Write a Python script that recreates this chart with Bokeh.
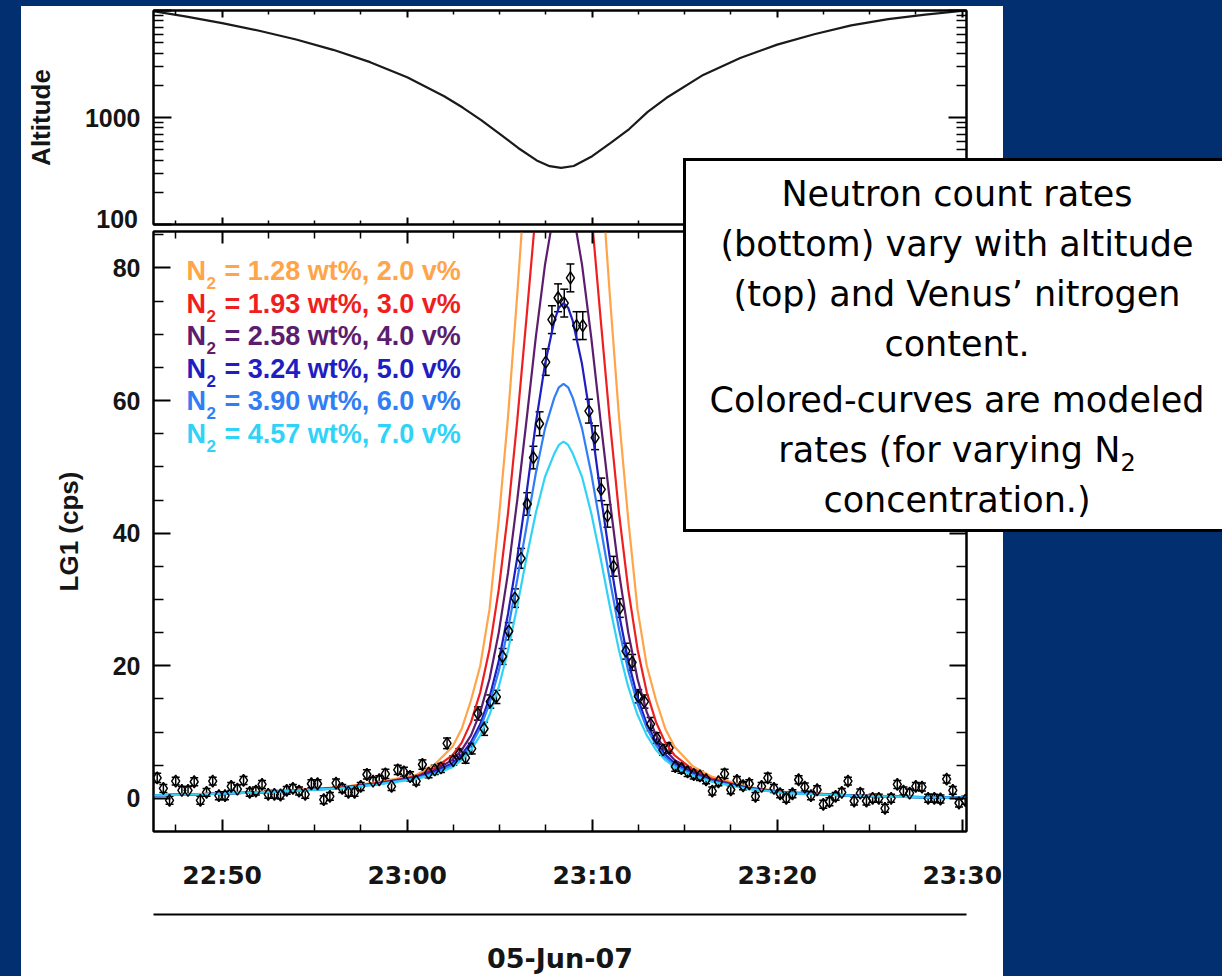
import numpy as np
from bokeh.plotting import figure
from bokeh.layouts import column
from bokeh.models import (Range1d, LinearAxis, LogAxis, FixedTicker, Label, Div,
                          ColumnDataSource, Whisker, TeeHead, GlobalInlineStyleSheet)
from bokeh.embed import file_html
from bokeh.resources import INLINE

# ---------------- data ----------------
time_tick_minutes = [50, 60, 70, 80, 90]          # minutes after 22:00
time_tick_labels = ["22:50", "23:00", "23:10", "23:20", "23:30"]
time_minor_minutes = [47.5, 52.5, 55, 57.5, 62.5, 65, 67.5, 72.5, 75, 77.5, 82.5, 85, 87.5]
date_label = "05-Jun-07"
alt_tick_values = [100, 1000, 10000]
alt_tick_labels = ["100", "1000", ""]

count_start_minute = 46.49
count_step_seconds = 20
lg1_cps = [3.1, 1.5, -0.3, 2.6, 1.2, 1.2, 2.5, -0.3, 0.9, 2.6,
           0.4, 0.4, 1.8, 1.4, 2.7, 0.9, 1.1, 2.1, 0.6, 0.6,
           0.5, 1.2, 1.5, 1.1, 0.6, 2.2, 2.2, -0.2, 0.3, 2.3,
           1.5, 0.9, 0.9, 1.8, 3.6, 2.6, 2.8, 3.7, 1.8, 4.3,
           4.0, 3.3, 2.6, 5.1, 3.8, 4.3, 4.6, 8.3, 5.7, 6.7,
           6.1, 7.5, 12.8, 10.5, 14.6, 15.3, 21.4, 25.2, 30.2, 36.2,
           44.4, 51.4, 56.5, 65.8, 72.2, 75.5, 74.7, 78.5, 71.3, 71.3,
           58.4, 54.4, 46.6, 42.6, 35.0, 28.7, 22.2, 20.5, 15.4, 14.6,
           11.2, 9.1, 7.3, 7.6, 4.8, 4.5, 4.0, 3.6, 3.4, 2.8,
           1.1, 2.5, 3.7, 1.3, 2.7, 1.9, 2.2, 0.3, 1.8, 3.1,
           1.5, 0.7, 0.0, 0.7, 2.8, 1.7, 0.4, 1.3, -0.9, -0.5,
           0.3, 0.9, 2.6, -0.4, 0.8, -0.4, 0.0, 0.0, -1.5, 0.0,
           2.1, 1.1, 0.8, 1.8, 1.7, 0.0, 0.0, -0.1, 2.9, 1.2,
           -0.7, -0.3]
lg1_err = [0.7, 0.6, 0.6, 0.6, 0.6, 0.6, 0.6, 0.6, 0.6, 0.6,
           0.6, 0.6, 0.6, 0.6, 0.6, 0.6, 0.6, 0.6, 0.6, 0.6,
           0.6, 0.6, 0.6, 0.6, 0.6, 0.6, 0.6, 0.6, 0.6, 0.6,
           0.6, 0.6, 0.6, 0.6, 0.7, 0.6, 0.6, 0.7, 0.6, 0.7,
           0.7, 0.7, 0.6, 0.7, 0.7, 0.7, 0.7, 0.8, 0.7, 0.8,
           0.8, 0.8, 1.0, 1.0, 1.0, 1.0, 1.2, 1.3, 1.4, 1.5,
           1.7, 1.7, 1.8, 2.0, 2.1, 2.1, 2.1, 2.1, 2.1, 2.1,
           1.8, 1.8, 1.7, 1.7, 1.5, 1.4, 1.2, 1.2, 1.0, 1.0,
           1.0, 0.8, 0.8, 0.8, 0.7, 0.7, 0.7, 0.7, 0.7, 0.6,
           0.6, 0.6, 0.7, 0.6, 0.6, 0.6, 0.6, 0.6, 0.6, 0.7,
           0.6, 0.6, 0.6, 0.6, 0.6, 0.6, 0.6, 0.6, 0.6, 0.6,
           0.6, 0.6, 0.6, 0.6, 0.6, 0.6, 0.6, 0.6, 0.6, 0.6,
           0.6, 0.6, 0.6, 0.6, 0.6, 0.6, 0.6, 0.6, 0.6, 0.6,
           0.6, 0.6]

model_minutes = [46.3, 50.0, 53.0, 56.45, 58.45, 60.45, 61.45, 62.45, 62.95, 63.45,
                 63.95, 64.45, 64.95, 65.45, 65.95, 66.45, 66.95, 67.45, 67.95, 68.2,
                 68.45, 68.7, 68.95, 69.45, 69.95, 70.45, 70.95, 71.45, 71.95, 72.45,
                 72.95, 73.45, 73.95, 74.45, 75.45, 76.45, 78.45, 80.45, 84.0, 88.0, 90.3]
model_n2_200 = [0.5, 0.75, 1.1, 1.7, 2.45, 3.5, 5.0, 7.8, 10.5, 14.8, 20.0, 28.5, 42.0, 57.5,
                76.0, 96.0, 117.0, 136.0, 149.0, 153.5, 155.0, 153.5, 149.0, 136.0, 117.0,
                96.0, 76.0, 57.5, 42.0, 28.5, 20.0, 14.8, 10.5, 7.8, 4.8, 3.3, 1.7, 0.95,
                0.5, 0.2, 0.1]
model_n2_300 = [0.45, 0.7, 1.05, 1.65, 2.35, 3.3, 4.5, 6.5, 8.4, 11.5, 16.0, 22.5, 31.5, 43.0,
                57.0, 72.5, 88.5, 103.0, 113.5, 117.0, 118.0, 117.0, 113.5, 103.0, 88.5,
                72.5, 57.0, 43.0, 31.5, 22.5, 16.0, 11.5, 8.4, 6.5, 4.3, 3.0, 1.6, 0.9,
                0.45, 0.2, 0.1]
model_n2_400 = [0.45, 0.7, 1.0, 1.6, 2.25, 3.2, 4.2, 5.8, 7.3, 9.5, 13.0, 18.0, 25.0, 34.0,
                45.0, 57.0, 69.5, 80.5, 88.7, 91.2, 92.0, 91.2, 88.7, 80.5, 69.5, 57.0,
                45.0, 34.0, 25.0, 18.0, 13.0, 9.5, 7.3, 5.8, 4.0, 2.8, 1.55, 0.9, 0.45,
                0.15, 0.1]
model_n2_500 = [0.45, 0.7, 1.0, 1.55, 2.2, 3.1, 4.0, 5.3, 6.6, 8.5, 11.2, 15.2, 20.7, 27.8,
                36.3, 46.0, 56.5, 65.5, 72.0, 74.0, 74.7, 74.0, 72.0, 65.5, 56.5, 46.0,
                36.3, 27.8, 20.7, 15.2, 11.2, 8.5, 6.6, 5.3, 3.8, 2.7, 1.5, 0.85, 0.4,
                0.15, 0.1]
model_n2_600 = [0.45, 0.7, 1.0, 1.55, 2.15, 3.0, 3.8, 5.0, 6.2, 8.0, 10.6, 14.3, 19.2, 25.5,
                33.0, 41.0, 49.0, 55.8, 60.4, 62.0, 62.5, 62.0, 60.4, 55.8, 49.0, 41.0,
                33.0, 25.5, 19.2, 14.3, 10.6, 8.0, 6.2, 5.0, 3.6, 2.6, 1.45, 0.85, 0.4,
                0.15, 0.1]
model_n2_700 = [0.45, 0.7, 1.0, 1.5, 2.1, 2.9, 3.6, 4.7, 5.8, 7.3, 9.5, 12.6, 16.8, 22.3,
                29.0, 36.3, 43.0, 48.5, 52.0, 53.3, 53.8, 53.3, 52.0, 48.5, 43.0, 36.3,
                29.0, 22.3, 16.8, 12.6, 9.5, 7.3, 5.8, 4.7, 3.4, 2.5, 1.4, 0.8, 0.4,
                0.15, 0.1]
legend_wt = ["1.28", "1.93", "2.58", "3.24", "3.90", "4.57"]
legend_v = ["2.0", "3.0", "4.0", "5.0", "6.0", "7.0"]
model_colors = ["#ffa449", "#f01f1f", "#5c1d6e", "#1e1ec2", "#2f7ef5", "#2fd3f7"]

alt_minutes = [46.23, 48, 50, 52, 54, 56, 58, 60, 62, 63, 64, 65, 66, 67, 67.7, 68.32,
               69, 70, 71, 72, 73, 74, 76, 78, 80, 82, 84, 86, 88, 90.23]
alt_km = [9870, 8800, 7620, 6470, 5360, 4290, 3290, 2373, 1579, 1239, 945, 703, 519, 397,
          351, 338, 352, 435, 580, 780, 1130, 1520, 2500, 3600, 4800, 6000, 7250, 8300,
          9150, 10000]

box_para1 = ["Neutron count rates", "(bottom) vary with altitude",
             "(top) and Venus\u2019 nitrogen", "content."]
box_para2 = ["Colored-curves are modeled",
             'rates (for varying N<span style="font-size:24px; position:relative; top:9px; '
             'line-height:0;">2</span>',
             "concentration.)"]

# ---------------- layout constants (page has no margin: canvas = page coords) ----------------
NAVY = "#022f70"
INK = "#151515"
FONT = "Liberation Sans"
WIDE = "DejaVu Sans"
W = 1222
TOP_H = 229
BOT_H = 976 - TOP_H
LEFT = 153
FRAME_W = 813
RIGHT = W - LEFT - FRAME_W
X0, X1 = 46.29, 90.23
BOT_FRAME_LEFT = LEFT
BOT_FRAME_BOTTOM = 831   # page y of bottom frame's lower edge


def style_axis(ax, labels=True):
    ax.axis_line_color = "black"
    ax.axis_line_width = 2
    ax.major_tick_line_color = "black"
    ax.major_tick_line_width = 2
    ax.minor_tick_line_color = "black"
    ax.minor_tick_line_width = 1.5
    ax.major_tick_out = 0
    ax.minor_tick_out = 0
    ax.major_label_text_font = FONT
    ax.major_label_text_font_style = "bold"
    ax.major_label_text_color = INK
    ax.axis_label_text_font = FONT
    ax.axis_label_text_font_style = "bold"
    ax.axis_label_text_font_size = "26px"
    ax.axis_label_text_color = INK
    if labels:
        ax.major_label_text_font_size = "25px"
    else:
        ax.major_label_text_font_size = "1px"
        ax.major_label_standoff = 0


def blank_overrides(ticks):
    return {t: "" for t in ticks}


def base_fig(h, y_range, y_type, top_b, bot_b):
    f = figure(width=W, height=h, x_range=Range1d(X0, X1), y_range=y_range,
               y_axis_type=y_type, x_axis_location=None, y_axis_location=None,
               output_backend="svg", toolbar_location=None,
               min_border_left=LEFT, min_border_right=RIGHT,
               min_border_top=top_b, min_border_bottom=bot_b)
    f.border_fill_alpha = 0
    f.background_fill_color = "white"
    f.outline_line_color = "black"
    f.outline_line_width = 2
    f.grid.visible = False
    return f


x_ticker = FixedTicker(ticks=time_tick_minutes, minor_ticks=time_minor_minutes)

# ---------------- top panel: altitude ----------------
top = base_fig(TOP_H, Range1d(100, 10000), "log", 10, TOP_H - 224)
log_ticker = FixedTicker(ticks=alt_tick_values,
                         minor_ticks=[200, 300, 400, 500, 600, 700, 800, 900,
                                      2000, 3000, 4000, 5000, 6000, 7000, 8000, 9000])
# the lowest label ("100") sits on the panel seam; it is placed as page text below
ya = LogAxis(ticker=log_ticker, axis_label="Altitude",
             major_label_overrides={100: "", 1000: alt_tick_labels[1], 10000: alt_tick_labels[2]})
style_axis(ya)
ya.major_tick_in = 18
ya.minor_tick_in = 10
ya.major_label_standoff = 13
ya.axis_label_standoff = 26
top.add_layout(ya, "left")
yb = LogAxis(ticker=log_ticker, major_label_overrides=blank_overrides(alt_tick_values))
style_axis(yb, labels=False)
yb.major_tick_in = 18
yb.minor_tick_in = 10
top.add_layout(yb, "right")
for loc in ("below", "above"):
    xa = LinearAxis(ticker=x_ticker, major_label_overrides=blank_overrides(time_tick_minutes))
    style_axis(xa, labels=False)
    xa.major_tick_in = 7
    xa.minor_tick_in = 4
    top.add_layout(xa, loc)

top.line(alt_minutes, alt_km, line_color="#1a1a1a", line_width=2.2)

# ---------------- bottom panel: LG1 ----------------
bot_top_border = 2
bot_bottom_border = 976 - BOT_FRAME_BOTTOM
frame_h = BOT_H - bot_top_border - bot_bottom_border
bot = base_fig(BOT_H, Range1d(-5, -5 + frame_h / 6.63), "linear", bot_top_border, bot_bottom_border)
y_ticks = [0, 20, 40, 60, 80]
y_ticker = FixedTicker(ticks=y_ticks,
                       minor_ticks=[5, 10, 15, 25, 30, 35, 45, 50, 55, 65, 70, 75, 85])
la = LinearAxis(ticker=y_ticker, axis_label="LG1 (cps)")
style_axis(la)
la.major_tick_in = 17
la.minor_tick_in = 10
la.major_label_standoff = 13
la.axis_label_standoff = 26
bot.add_layout(la, "left")
ra = LinearAxis(ticker=y_ticker, major_label_overrides=blank_overrides(y_ticks))
style_axis(ra, labels=False)
ra.major_tick_in = 17
ra.minor_tick_in = 10
bot.add_layout(ra, "right")
ta = LinearAxis(ticker=x_ticker, major_label_overrides=blank_overrides(time_tick_minutes))
style_axis(ta, labels=False)
ta.major_tick_in = 12
ta.minor_tick_in = 7
bot.add_layout(ta, "above")
ba = LinearAxis(ticker=x_ticker,
                major_label_overrides=dict(zip(time_tick_minutes, time_tick_labels)))
style_axis(ba)
ba.major_label_text_font = WIDE
ba.major_tick_in = 12
ba.minor_tick_in = 7
ba.major_label_standoff = 29
ba.axis_label = " "
ba.axis_label_text_font_size = "10px"
ba.axis_label_standoff = 8
bot.add_layout(ba, "below")
da = LinearAxis(ticker=x_ticker, axis_label=date_label,
                major_label_overrides=blank_overrides(time_tick_minutes))
style_axis(da, labels=False)
da.axis_label_text_font = WIDE
da.axis_label_text_font_size = "27px"
da.major_tick_in = 0
da.minor_tick_in = 0
da.major_tick_line_alpha = 0
da.minor_tick_line_alpha = 0
da.axis_label_standoff = 28
bot.add_layout(da, "below")

models = [model_n2_200, model_n2_300, model_n2_400, model_n2_500, model_n2_600, model_n2_700]
for vals, col in zip(models, model_colors):
    bot.line(model_minutes, vals, line_color=col, line_width=2.2)

t_counts = count_start_minute + np.arange(len(lg1_cps)) * count_step_seconds / 60.0
cps = np.array(lg1_cps)
err = np.array(lg1_err)
src = ColumnDataSource(dict(t=t_counts, y=cps, lo=cps - err, hi=cps + err))
wh = Whisker(source=src, base="t", lower="lo", upper="hi", line_color="black", line_width=1.5,
             upper_head=TeeHead(size=8, line_color="black", line_width=1.5),
             lower_head=TeeHead(size=8, line_color="black", line_width=1.5))
bot.add_layout(wh)
bot.scatter("t", "y", source=src, marker="diamond", size=12, fill_alpha=0,
            line_color="black", line_width=1.5)


# legend (colored N2 labels); "screen" units are frame-relative with y upward
def fx(px):
    return px - BOT_FRAME_LEFT


def fy(py):
    return BOT_FRAME_BOTTOM - py


for i, (wt, v, col) in enumerate(zip(legend_wt, legend_v, model_colors)):
    yc = 270.5 + i * 32.5
    common = dict(x_units="screen", y_units="screen", text_font=FONT, text_font_style="bold",
                  text_color=col, text_baseline="middle", text_align="left")
    bot.add_layout(Label(x=fx(186), y=fy(yc), text="N", text_font_size="27px", **common))
    bot.add_layout(Label(x=fx(206), y=fy(yc + 12), text="2", text_font_size="17px", **common))
    bot.add_layout(Label(x=fx(224), y=fy(yc), text=f"= {wt} wt%, {v} v%",
                         text_font_size="27px", **common))

# ---------------- text box overlapping both panels (HTML, absolutely placed) ----------------
p1 = "<br>".join(box_para1)
p2 = "<br>".join(box_para2)
box_html = (
    '<div style="box-sizing:border-box; width:539px; height:374px; background:#ffffff; '
    'border:3px solid #000000; border-right:none; padding:8px 0 0 6px; margin:0; '
    "font-family:'DejaVu Sans', sans-serif; font-size:35px; color:#000000; "
    'text-align:center; line-height:50px;">'
    f'<div>{p1}</div><div style="margin-top:6px;">{p2}</div></div>'
)
box_div = Div(text=box_html, margin=0,
              styles={"position": "absolute", "left": "683px", "top": "158px", "z-index": "10"})

low_tick_html = (
    '<div style="width:58px; text-align:right; font-family:\'Liberation Sans\', sans-serif; '
    f'font-weight:bold; font-size:25px; line-height:26px; color:{INK};">{alt_tick_labels[0]}</div>'
)
low_tick_div = Div(text=low_tick_html, margin=0,
                   styles={"position": "absolute", "left": "80px", "top": "206px", "z-index": "5"})

css = GlobalInlineStyleSheet(css=f"""
html {{ background-color: {NAVY}; overflow: hidden; }}
body {{
  overflow: hidden;
  background: linear-gradient(to bottom, {NAVY} 0px, {NAVY} 6px, rgba(0,0,0,0) 6px) no-repeat fixed,
              linear-gradient(to right, {NAVY} 0px, {NAVY} 21px, #ffffff 21px, #ffffff 1003px, {NAVY} 1003px) no-repeat fixed;
}}
""")
layout = column(top, bot, box_div, low_tick_div, spacing=0, stylesheets=[css])

open("out.html", "w").write(file_html(layout, INLINE))
